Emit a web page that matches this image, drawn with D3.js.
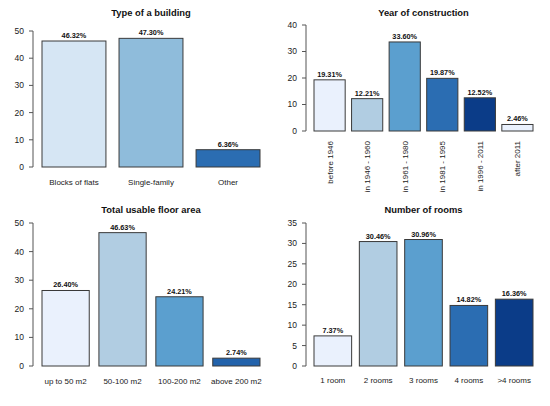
<!DOCTYPE html>
<html>
<head>
<meta charset="utf-8">
<script src="https://cdn.jsdelivr.net/npm/d3@7"></script>
<style>
  body { margin: 0; background: #fff; }
  text { font-family: "Liberation Sans", Arial, sans-serif; }
</style>
</head>
<body>
<script>
// chart data
const buildingTypes = ["Blocks of flats", "Single-family", "Other"];
const buildingShares = [46.32, 47.30, 6.36];
const buildingTicks = [0, 10, 20, 30, 40, 50];

const constructionYears = ["before 1946", "in 1946 - 1960", "in 1961 - 1980", "in 1981 - 1995", "in 1996 - 2011", "after 2011"];
const constructionShares = [19.31, 12.21, 33.60, 19.87, 12.52, 2.46];
const constructionTicks = [0, 10, 20, 30, 40];

const floorAreas = ["up to 50 m2", "50-100 m2", "100-200 m2", "above 200 m2"];
const floorShares = [26.40, 46.63, 24.21, 2.74];
const floorTicks = [0, 10, 20, 30, 40, 50];

const roomCounts = ["1 room", "2 rooms", "3 rooms", "4 rooms", ">4 rooms"];
const roomShares = [7.37, 30.46, 30.96, 14.82, 16.36];
const roomTicks = [0, 5, 10, 15, 20, 25, 30, 35];

const width = 550;
const height = 406;

const svg = d3.select("body")
  .append("svg")
  .attr("width", width)
  .attr("height", height);

function drawPanel(p) {
  const g = svg.append("g");

  const x = d3.scaleBand()
    .domain(p.labels)
    .range(p.xRange)
    .paddingInner(0.17)
    .paddingOuter(0);

  const y = d3.scaleLinear()
    .domain([0, d3.max(p.ticks)])
    .range(p.yRange);

  // y axis, R style: line only from first to last tick
  g.append("line")
    .attr("x1", p.axisX).attr("x2", p.axisX)
    .attr("y1", y(0)).attr("y2", y(d3.max(p.ticks)))
    .attr("stroke", "#555").attr("stroke-width", 1);

  g.selectAll(".tick")
    .data(p.ticks)
    .enter()
    .append("line")
    .attr("x1", p.axisX - 4).attr("x2", p.axisX)
    .attr("y1", (d) => y(d)).attr("y2", (d) => y(d))
    .attr("stroke", "#555");

  g.selectAll(".tickLabel")
    .data(p.ticks)
    .enter()
    .append("text")
    .attr("x", p.axisX - 9)
    .attr("y", (d) => y(d))
    .attr("dy", "0.35em")
    .attr("text-anchor", "end")
    .style("font-size", "8.5px")
    .attr("fill", "#222")
    .text((d) => d);

  // bars
  g.selectAll("rect")
    .data(p.values)
    .enter()
    .append("rect")
    .attr("x", (d, i) => x(p.labels[i]))
    .attr("y", (d) => y(d))
    .attr("width", x.bandwidth())
    .attr("height", (d) => y(0) - y(d))
    .attr("fill", (d, i) => p.colors[i])
    .attr("stroke", "#3a3a3a")
    .attr("stroke-width", 1);

  // value labels
  g.selectAll(".val")
    .data(p.values)
    .enter()
    .append("text")
    .attr("x", (d, i) => x(p.labels[i]) + x.bandwidth() / 2)
    .attr("y", (d) => y(d) - 3)
    .attr("text-anchor", "middle")
    .style("font-size", "7.3px")
    .style("font-weight", "bold")
    .attr("fill", "#111")
    .text((d) => d.toFixed(2) + "%");

  // category labels
  if (p.rotate) {
    g.selectAll(".cat")
      .data(p.labels)
      .enter()
      .append("text")
      .attr("transform", (d) => `translate(${x(d) + x.bandwidth() / 2 + 3}, ${p.catY}) rotate(-90)`)
      .attr("text-anchor", "end")
      .style("font-size", "8px")
      .attr("fill", "#222")
      .text((d) => d);
  } else {
    g.selectAll(".cat")
      .data(p.labels)
      .enter()
      .append("text")
      .attr("x", (d) => x(d) + x.bandwidth() / 2)
      .attr("y", p.catY)
      .attr("text-anchor", "middle")
      .style("font-size", "8px")
      .attr("fill", "#222")
      .text((d) => d);
  }

  // title
  g.append("text")
    .attr("x", (p.xRange[0] + p.xRange[1]) / 2)
    .attr("y", p.titleY)
    .attr("text-anchor", "middle")
    .style("font-size", "9.4px")
    .style("font-weight", "bold")
    .attr("fill", "#111")
    .text(p.title);
}

drawPanel({
  title: "Type of a building",
  labels: buildingTypes,
  values: buildingShares,
  ticks: buildingTicks,
  colors: ["#d6e6f4", "#8fbcdb", "#2b6db2"],
  xRange: [42, 260],
  yRange: [167, 31],
  axisX: 33,
  catY: 185,
  titleY: 16
});

drawPanel({
  title: "Year of construction",
  labels: constructionYears,
  values: constructionShares,
  ticks: constructionTicks,
  colors: ["#eaf1fd", "#b1cde2", "#5b9fcf", "#2b6db2", "#0b3c88", "#eaf1fd"],
  xRange: [314, 533],
  yRange: [131, 25],
  axisX: 306,
  catY: 141,
  rotate: true,
  titleY: 16
});

drawPanel({
  title: "Total usable floor area",
  labels: floorAreas,
  values: floorShares,
  ticks: floorTicks,
  colors: ["#eaf1fd", "#b1cde2", "#5b9fcf", "#2262ab"],
  xRange: [42, 260],
  yRange: [366, 223],
  axisX: 33,
  catY: 384,
  titleY: 213
});

drawPanel({
  title: "Number of rooms",
  labels: roomCounts,
  values: roomShares,
  ticks: roomTicks,
  colors: ["#eaf1fd", "#b1cde2", "#5b9fcf", "#2b6db2", "#0b3c88"],
  xRange: [314, 533],
  yRange: [366, 223],
  axisX: 306,
  catY: 383,
  titleY: 213
});
</script>
</body>
</html>
